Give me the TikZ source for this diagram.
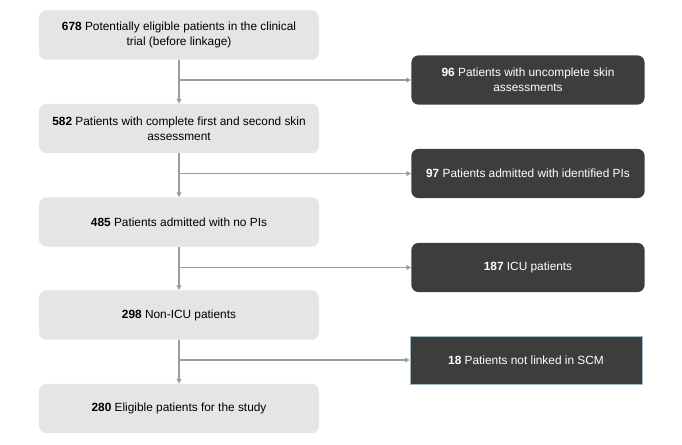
\documentclass[tikz,border=0pt]{standalone}
\usepackage{fontspec}
\setmainfont{Liberation Sans}
\usetikzlibrary{arrows.meta}
\definecolor{lightbox}{HTML}{E5E5E5}
\definecolor{darkbox}{HTML}{3D3D3D}
\definecolor{linegray}{HTML}{9C9C9C}
\definecolor{edgeblue}{HTML}{A3BAC4}
\begin{document}
\begin{tikzpicture}[x=0.75pt,y=-0.75pt,
  txt/.style={align=flush center,font=\fontsize{8.9}{11.3}\selectfont,inner sep=0pt},
  lbox/.style={txt,fill=lightbox,draw=none,rounded corners=5.5pt,minimum width=210pt,minimum height=37pt,text width=196pt},
  dbox/.style={txt,fill=darkbox,draw=none,rounded corners=5.5pt,minimum width=175pt,minimum height=37pt,text width=165pt,text=white},
  sqbox/.style={txt,fill=darkbox,draw=edgeblue,line width=0.6pt,minimum width=174pt,minimum height=36pt,text width=165pt,text=white},
  conn/.style={draw=linegray,line width=0.9pt,-{Triangle[length=3.5pt,width=3.5pt]}}]
\useasboundingbox (0,0) rectangle (682,444);
\node[lbox] (a) at (179,35) {\textbf{678} Potentially eligible patients in the clinical\\trial (before linkage)};
\node[lbox] (b) at (179,128.5) {\textbf{582} Patients with complete first and second skin\\assessment};
\node[lbox] (c) at (179,222) {\textbf{485} Patients admitted with no PIs};
\node[lbox] (d) at (179,315) {\textbf{298} Non-ICU patients};
\node[lbox] (e) at (179,408.5) {\textbf{280} Eligible patients for the study};
\node[dbox] (r1) at (528,80) {\textbf{96} Patients with uncomplete skin\\assessments};
\node[dbox] (r2) at (528,173.5) {\textbf{97} Patients admitted with identified PIs};
\node[dbox] (r3) at (528,267.5) {\textbf{187} ICU patients};
\node[sqbox] (r4) at (526,360) {\textbf{18} Patients not linked in SCM};
\coordinate (j1) at (179,80);
\coordinate (j2) at (179,173.5);
\coordinate (j3) at (179,267.5);
\coordinate (j4) at (179,360);
\draw[conn] (a) -- (b);
\draw[conn] (b) -- (c);
\draw[conn] (c) -- (d);
\draw[conn] (d) -- (e);
\draw[conn] (j1) -- (r1);
\draw[conn] (j2) -- (r2);
\draw[conn] (j3) -- (r3);
\draw[conn] (j4) -- (r4);
\end{tikzpicture}
\end{document}
